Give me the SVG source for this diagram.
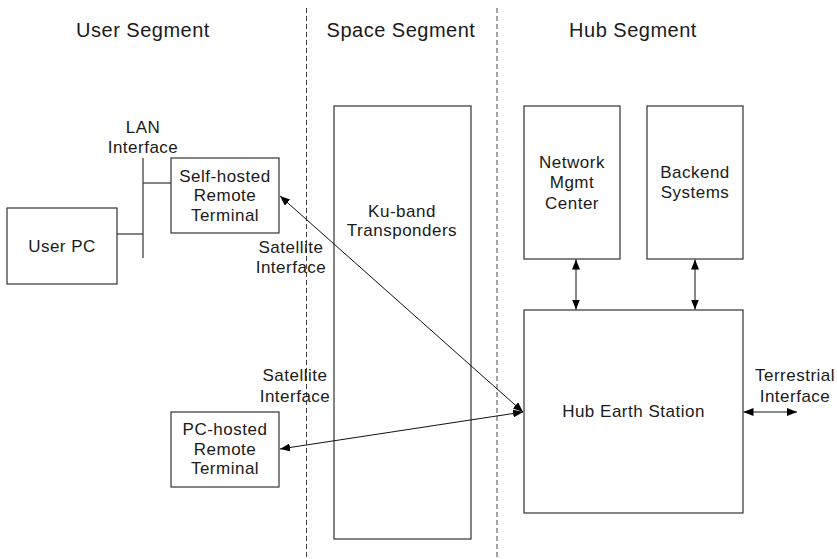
<svg xmlns="http://www.w3.org/2000/svg" width="837" height="559" viewBox="0 0 837 559">
<style>
text{font-family:"Liberation Sans",Arial,sans-serif;fill:#1a1a1a;text-anchor:middle}
.h{font-size:20px;letter-spacing:0.5px}
.t{font-size:17px;letter-spacing:0.5px}
.box{fill:#fff;stroke:#333;stroke-width:1.2}
.open{fill:none}
.ln{stroke:#333;stroke-width:1.2;fill:none}
.ar{stroke:#111;stroke-width:1;fill:none;marker-start:url(#ah);marker-end:url(#ah)}
.dash{stroke:#444;stroke-width:1;stroke-dasharray:5 3}
</style>
<defs>
<marker id="ah" viewBox="0 0 10 8" refX="10" refY="4" markerWidth="10" markerHeight="8" markerUnits="userSpaceOnUse" orient="auto-start-reverse">
<path d="M0,0 L10,4 L0,8 Z" fill="#000"/>
</marker>
</defs>
<rect width="837" height="559" fill="#fff"/>
<g id="dividers">
<line class="dash" x1="306.5" y1="8" x2="306.5" y2="559"/>
<line class="dash" x1="497" y1="8" x2="497" y2="559"/>
</g>
<g id="headings">
<text class="h" x="143" y="37">User Segment</text>
<text class="h" x="401" y="37">Space Segment</text>
<text class="h" x="633" y="37">Hub Segment</text>
</g>
<g id="labels">
<text class="t" x="143" y="133">LAN</text>
<text class="t" x="143" y="152.5">Interface</text>
<text class="t" x="291" y="253">Satellite</text>
<text class="t" x="291" y="273">Interface</text>
<text class="t" x="295" y="381">Satellite</text>
<text class="t" x="295" y="401.5">Interface</text>
<text class="t" x="795" y="381">Terrestrial</text>
<text class="t" x="795" y="401.5">Interface</text>
</g>
<g id="user-pc">
<rect class="box" x="7" y="208" width="110" height="76"/>
<text class="t" x="62" y="251.5">User PC</text>
</g>
<g id="self-hosted">
<rect class="box" x="171" y="158" width="108" height="75"/>
<text class="t" x="225" y="181.5">Self-hosted</text>
<text class="t" x="225" y="201">Remote</text>
<text class="t" x="225" y="220.5">Terminal</text>
</g>
<g id="pc-hosted">
<rect class="box" x="171" y="412" width="108" height="75"/>
<text class="t" x="225" y="435">PC-hosted</text>
<text class="t" x="225" y="454.5">Remote</text>
<text class="t" x="225" y="474">Terminal</text>
</g>
<g id="ku-band">
<rect class="box open" x="334" y="106" width="137" height="433"/>
<text class="t" x="402" y="216.5">Ku-band</text>
<text class="t" x="402" y="236">Transponders</text>
</g>
<g id="nmc">
<rect class="box" x="524" y="106" width="96" height="153"/>
<text class="t" x="572" y="168">Network</text>
<text class="t" x="572" y="188">Mgmt</text>
<text class="t" x="572" y="209">Center</text>
</g>
<g id="backend">
<rect class="box" x="647" y="106" width="96" height="153"/>
<text class="t" x="695" y="178">Backend</text>
<text class="t" x="695" y="198">Systems</text>
</g>
<g id="hub">
<rect class="box" x="524" y="310" width="219" height="203"/>
<text class="t" x="633.5" y="416.5">Hub Earth Station</text>
</g>
<g id="connectors">
<line class="ln" x1="143" y1="158" x2="143" y2="258"/>
<line class="ln" x1="143" y1="183" x2="171" y2="183"/>
<line class="ln" x1="117" y1="234" x2="143" y2="234"/>
<line class="ar" x1="280" y1="196" x2="523" y2="412"/>
<line class="ar" x1="523" y1="412" x2="280" y2="449"/>
<line class="ar" x1="576" y1="259.5" x2="576" y2="309.5"/>
<line class="ar" x1="695" y1="259.5" x2="695" y2="309.5"/>
<line class="ar" x1="743.5" y1="412" x2="797" y2="412"/>
</g>
</svg>
